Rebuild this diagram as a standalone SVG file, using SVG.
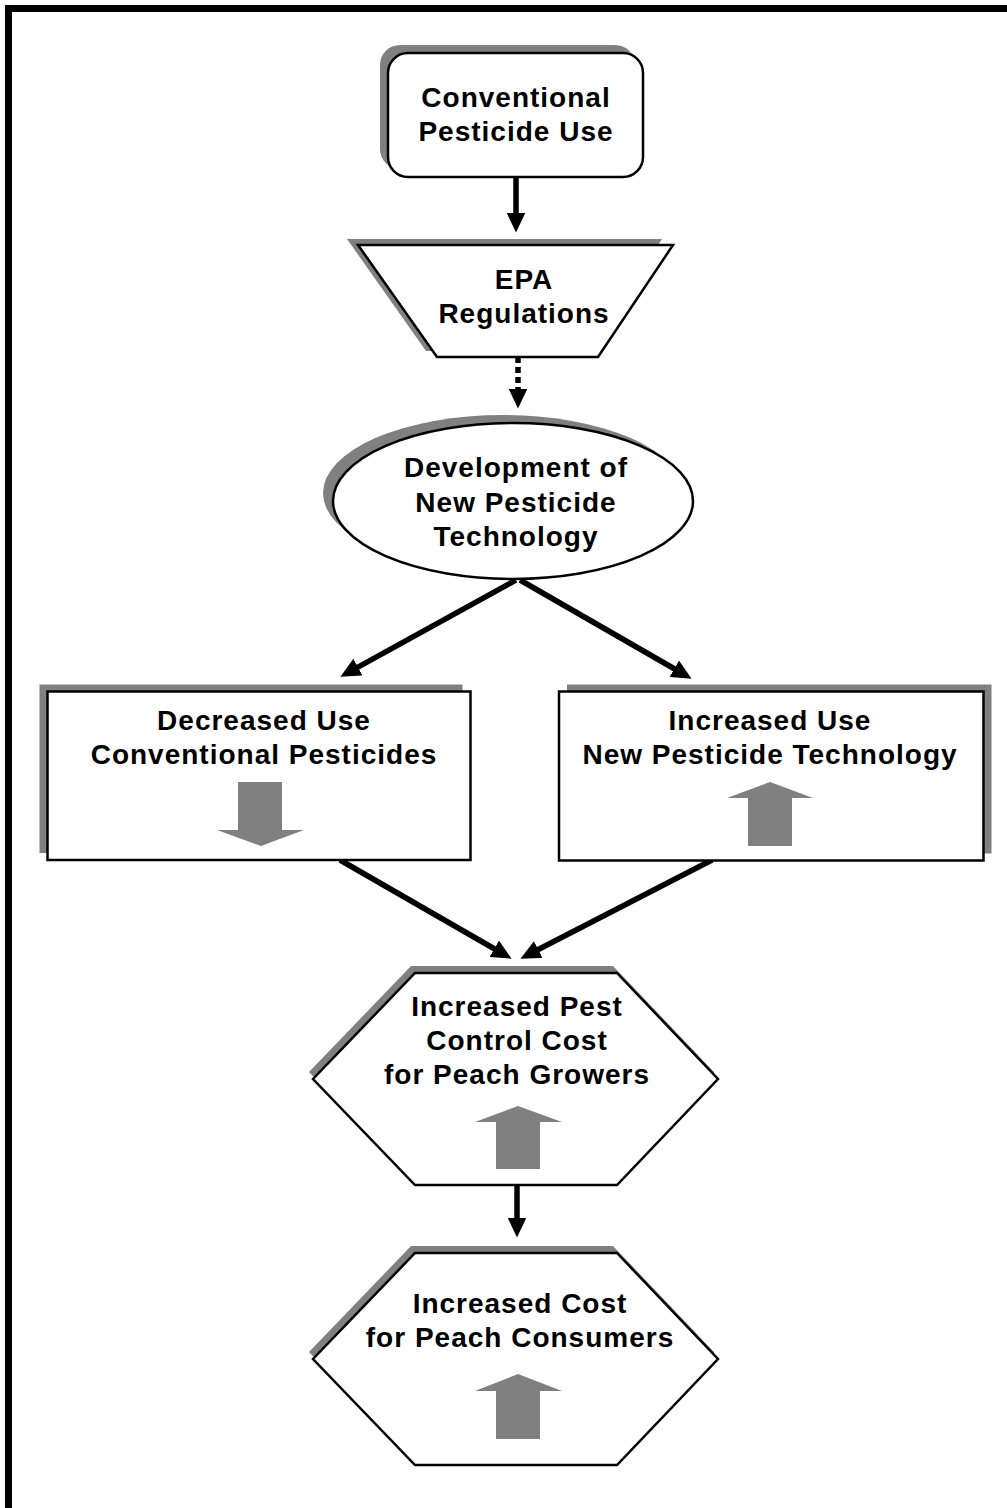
<svg xmlns="http://www.w3.org/2000/svg" width="1007" height="1508" viewBox="0 0 1007 1508">
<style>
.shape{fill:#fff;stroke:#000;stroke-width:2.5;stroke-linejoin:miter}
.shadow{fill:#808080;stroke:none}
.ind{fill:#808080;stroke:none}
.lbl{font-family:"Liberation Sans",Arial,sans-serif;font-weight:bold;font-size:28px;letter-spacing:1px;text-anchor:middle;fill:#000}
.conn{fill:none;stroke:#000;stroke-width:5.5}
.dash{stroke-dasharray:6 4}
</style>
<defs>
<marker id="ah" markerUnits="userSpaceOnUse" markerWidth="20" markerHeight="19" viewBox="0 0 20 19" refX="0.5" refY="9.5" orient="auto">
<path d="M0,0 L20,9.5 L0,19 z" fill="#000"/>
</marker>
</defs>
<rect x="8.5" y="8.5" width="1100" height="1600" fill="none" stroke="#000" stroke-width="7"/>

<g id="connectors">
<path class="conn" d="M516,177 V213" marker-end="url(#ah)"/>
<path class="conn dash" d="M518,357 V389" marker-end="url(#ah)"/>
<path class="conn" d="M516,580 L357.5,667.3" marker-end="url(#ah)"/>
<path class="conn" d="M520,580 L674.7,669" marker-end="url(#ah)"/>
<path class="conn" d="M340,860 L494.7,949" marker-end="url(#ah)"/>
<path class="conn" d="M712,860 L537.8,949.8" marker-end="url(#ah)"/>
<path class="conn" d="M517,1185 V1218" marker-end="url(#ah)"/>
</g>

<g id="node-conventional">
<rect class="shadow" x="380" y="45" width="255" height="124" rx="20"/>
<rect class="shape" x="388" y="53" width="255" height="124" rx="20"/>
<text class="lbl" x="516" y="107">Conventional</text>
<text class="lbl" x="516" y="141">Pesticide Use</text>
</g>

<g id="node-epa">
<polygon class="shadow" points="347,239 662,239 587,351 426,351"/>
<polygon class="shape" points="358,245 673,245 598,357 437,357"/>
<text class="lbl" x="524" y="289">EPA</text>
<text class="lbl" x="524" y="323">Regulations</text>
</g>

<g id="node-development">
<ellipse class="shadow" cx="503" cy="493" rx="180" ry="78"/>
<ellipse class="shape" cx="513" cy="501" rx="180" ry="78"/>
<text class="lbl" x="516" y="477">Development of</text>
<text class="lbl" x="516" y="512">New Pesticide</text>
<text class="lbl" x="516" y="546">Technology</text>
</g>

<g id="node-decreased">
<rect class="shadow" x="39.5" y="684.5" width="423" height="168.5"/>
<rect class="shape" x="47.5" y="691.5" width="423" height="168.5"/>
<text class="lbl" x="264" y="730">Decreased Use</text>
<text class="lbl" x="264" y="764">Conventional Pesticides</text>
<polygon class="ind" points="238,782 282,782 282,830 304,830 261,846 217,830 238,830"/>
</g>

<g id="node-increased">
<rect class="shadow" x="567" y="684.5" width="424.5" height="169"/>
<rect class="shape" x="559" y="691.5" width="424.5" height="169"/>
<text class="lbl" x="770" y="730">Increased Use</text>
<text class="lbl" x="770" y="764">New Pesticide Technology</text>
<polygon class="ind" points="770,782 813,798 792,798 792,846 748,846 748,798 727,798"/>
</g>

<g id="node-growers">
<polygon class="shadow" points="411,966 613,966 714,1072 613,1178 411,1178 309,1072"/>
<polygon class="shape" points="415,973 617,973 718,1079 617,1185 415,1185 313,1079"/>
<text class="lbl" x="517" y="1016">Increased Pest</text>
<text class="lbl" x="517" y="1050">Control Cost</text>
<text class="lbl" x="517" y="1084">for Peach Growers</text>
<polygon class="ind" points="518,1106 562,1122 540,1122 540,1169 496,1169 496,1122 475,1122"/>
</g>

<g id="node-consumers">
<polygon class="shadow" points="411,1246 613,1246 714,1352 613,1458 411,1458 309,1352"/>
<polygon class="shape" points="415,1253 617,1253 718,1359 617,1465 415,1465 313,1359"/>
<text class="lbl" x="520" y="1313">Increased Cost</text>
<text class="lbl" x="520" y="1347">for Peach Consumers</text>
<polygon class="ind" points="518,1374 562,1391 540,1391 540,1439 496,1439 496,1391 475,1391"/>
</g>
</svg>
